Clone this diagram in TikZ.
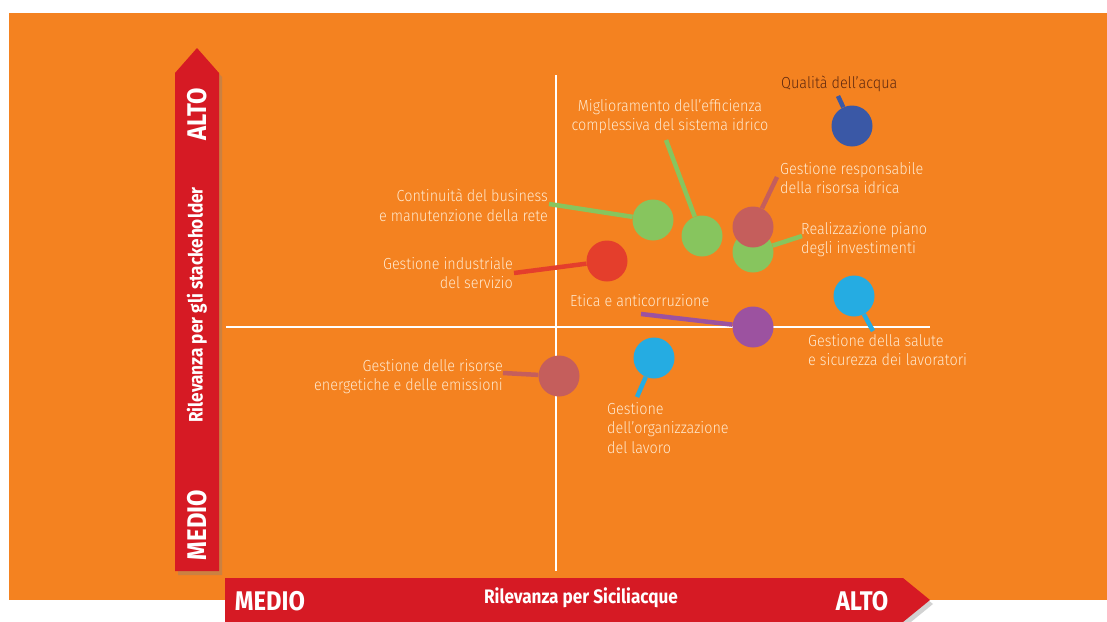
\documentclass[tikz,border=0pt]{standalone}
\usepackage{fontspec}
\setmainfont{Fira Sans}
\newfontfamily\labf{Fira Sans Light}[FakeStretch=0.9]
\newfontfamily\boldf{Fira Sans Bold}[FakeStretch=0.88]
\usetikzlibrary{shadows}
\definecolor{bgor}{RGB}{244,130,32}
\definecolor{axred}{RGB}{214,26,36}
\definecolor{cgreen}{RGB}{135,197,94}
\definecolor{cblue}{RGB}{58,88,166}
\definecolor{crose}{RGB}{197,94,92}
\definecolor{cred}{RGB}{228,62,44}
\definecolor{cpurple}{RGB}{156,82,160}
\definecolor{ccyan}{RGB}{37,172,226}
\definecolor{labtxt}{RGB}{255,232,205}
\definecolor{darktxt}{RGB}{95,40,15}
\tikzset{
  dot/.style={circle, minimum size=41pt, inner sep=0pt, draw=none},
  stem/.style={line width=4.5pt},
  lab/.style={font=\labf\fontsize{16}{19.5}\selectfont, text=labtxt, inner sep=0pt},
  labl/.style={lab, anchor=north west, align=left},
  labr/.style={lab, anchor=north east, align=right},
  labc/.style={lab, anchor=north, align=center},
  axis/.style={fill=axred, draw=none, drop shadow={opacity=0.35, shadow xshift=3pt, shadow yshift=-4pt}},
  axtxt/.style={text=white, font=\boldf\fontsize{27}{29}\selectfont, inner sep=0pt},
  axtitle/.style={text=white, font=\boldf\fontsize{19.5}{21}\selectfont, inner sep=0pt},
  cross/.style={white, line width=2pt}
}
\begin{document}
\begin{tikzpicture}[x=1pt,y=-1pt]
\useasboundingbox (0,0) rectangle (1107,621);
\fill[white] (0,0) rectangle (1107,621);
\fill[bgor] (9,13) rectangle (1107,600);
% cross lines
\coordinate (vtop) at (556,75);
\coordinate (vbot) at (556,571);
\coordinate (hl) at (226,327);
\coordinate (hr) at (930,327);
\draw[cross] (vtop) -- (vbot);
\draw[cross] (hl) -- (hr);
% vertical axis
\path[axis] (175,571) -- (175,73) -- (197,48) -- (219,73) -- (219,571) -- cycle;
\node[axtxt, rotate=90] (valto) at (197,114) {ALTO};
\node[axtxt, rotate=90] (vmedio) at (197,525) {MEDIO};
\node[axtitle, rotate=90] (vtitle) at (197,305) {Rilevanza per gli stackeholder};
% horizontal axis
\path[axis] (225,578) -- (903,578) -- (930,600) -- (903,622) -- (225,622) -- cycle;
\node[axtxt] (hmedio) at (270,601) {MEDIO};
\node[axtitle] (htitle) at (581,598) {Rilevanza per Siciliacque};
\node[axtxt] (halto) at (862,601) {ALTO};
% circles
\node[dot, fill=cblue] (qa) at (852,126) {};
\node[dot, fill=cgreen] (mi) at (702,236) {};
\node[dot, fill=cgreen] (re) at (753,252) {};
\node[dot, fill=crose] (gr) at (753,227) {};
\node[dot, fill=cgreen] (co) at (653,220) {};
\node[dot, fill=cred] (gi) at (607,261) {};
\node[dot, fill=cpurple] (et) at (753,327) {};
\node[dot, fill=ccyan] (gs) at (854,296) {};
\node[dot, fill=ccyan] (go) at (654,358) {};
\node[dot, fill=crose] (ge) at (559,376) {};
% stem ends
\coordinate (sqa) at (838,96);
\coordinate (smi) at (666,140);
\coordinate (sgr) at (777,177);
\coordinate (sre) at (802,236);
\coordinate (sco) at (549,204);
\coordinate (sgi) at (514,273);
\coordinate (set) at (641,314);
\coordinate (sgs) at (873,331);
\coordinate (sgo) at (637,397);
\coordinate (sge) at (503,373);
\draw[stem, cblue] (sqa) -- (qa);
\draw[stem, cgreen] (smi) -- (mi);
\draw[stem, crose] (sgr) -- (gr);
\draw[stem, cgreen] (sre) -- (re);
\draw[stem, cgreen] (sco) -- (co);
\draw[stem, cred] (sgi) -- (gi);
\draw[stem, cpurple] (set) -- (et);
\draw[stem, ccyan] (sgs) -- (gs);
\draw[stem, ccyan] (sgo) -- (go);
\draw[stem, crose] (sge) -- (ge);
% labels
\node[labl, text=darktxt] (lqa) at (781,76) {Qualità dell’acqua};
\node[labc] (lmi) at (670,99) {Miglioramento dell’efficienza\\complessiva del sistema idrico};
\node[labl] (lgr) at (780,162) {Gestione responsabile\\della risorsa idrica};
\node[labl] (lre) at (801,222) {Realizzazione piano\\degli investimenti};
\node[labr] (lco) at (548,189) {Continuità del business\\e manutenzione della rete};
\node[labr] (lgi) at (513,257) {Gestione industriale\\del servizio};
\node[labl] (let) at (570,294) {Etica e anticorruzione};
\node[labl] (lgs) at (808,334) {Gestione della salute\\e sicurezza dei lavoratori};
\node[labl] (lgo) at (607,402) {Gestione\\dell’organizzazione\\del lavoro};
\node[labr] (lge) at (503,359) {Gestione delle risorse\\energetiche e delle emissioni};
\end{tikzpicture}
\end{document}
